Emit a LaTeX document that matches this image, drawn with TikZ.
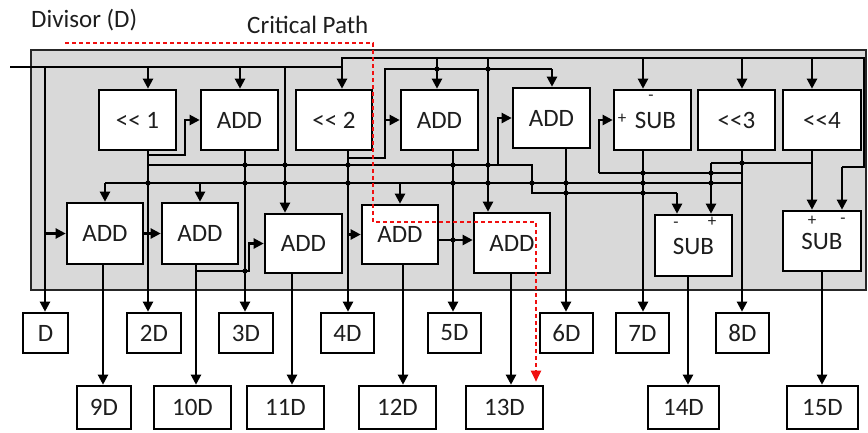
\documentclass[tikz,border=0pt]{standalone}
\usepackage{fontspec}
\setmainfont{Carlito}
\usetikzlibrary{arrows.meta}
\definecolor{panel}{HTML}{D9D9D9}
\definecolor{txt}{HTML}{1E1E1E}
\definecolor{crit}{HTML}{F01010}
\begin{document}
\begin{tikzpicture}[x=1pt,y=-1pt,
  wire/.style={line width=2.2pt, draw=black},
  arr/.style={wire, -{Triangle[length=10pt,width=10pt]}},
  blk/.style={draw=black, line width=2.6pt, fill=white, inner sep=0pt, text=txt,
              font=\fontsize{25}{28}\selectfont},
  sm/.style={inner sep=0pt, text=txt, font=\fontsize{17}{18}\selectfont},
  ttl/.style={inner sep=0pt, text=txt, anchor=west, font=\fontsize{25}{28}\selectfont},
  critpath/.style={draw=crit, line width=2.2pt, dash pattern=on 4pt off 3pt,
              -{Triangle[length=11pt,width=10pt]}},
]
\useasboundingbox (0,0) rectangle (868,432);
% panel
\filldraw[fill=panel, draw=black!85, line width=2.4pt] (31,50) rectangle (866,290);

% titles
\node[ttl] (tdiv) at (31,20) {Divisor (D)};
\node[ttl] (tcrit) at (247,25) {Critical Path};

% top row blocks
\node[blk, minimum width=77pt, minimum height=60pt] (b1) at (137.5,120) {<\kern0pt< 1};
\node[blk, minimum width=77pt, minimum height=60pt] (b2) at (239.5,120) {ADD};
\node[blk, minimum width=76pt, minimum height=60pt] (b3) at (334,120) {<\kern0pt< 2};
\node[blk, minimum width=77pt, minimum height=60pt] (b4) at (439.5,120) {ADD};
\node[blk, minimum width=77pt, minimum height=60pt] (b5) at (551.5,118) {ADD};
\node[blk, minimum width=77pt, minimum height=60pt] (b6) at (652.5,120) {\hspace*{6pt}SUB};
\node[blk, minimum width=77pt, minimum height=60pt] (b7) at (736.5,120) {<\kern0pt<3};
\node[blk, minimum width=78pt, minimum height=60pt] (b8) at (822,120) {<\kern0pt<4};
\node[sm] (b6p) at (622,119) {+};
\node[sm] (b6m) at (651,98) {-};

% second row blocks
\node[blk, minimum width=76pt, minimum height=61pt] (c1) at (105,233.5) {ADD};
\node[blk, minimum width=76pt, minimum height=61pt] (c2) at (200,233.5) {ADD};
\node[blk, minimum width=77pt, minimum height=59pt] (c3) at (303.5,243.5) {ADD};
\node[blk, minimum width=76pt, minimum height=59pt] (c4) at (400,234.5) {ADD};
\node[blk, minimum width=76pt, minimum height=60pt] (c5) at (512,243) {ADD};
\node[blk, minimum width=77pt, minimum height=61pt] (c6) at (693.5,245.5) {};
\node[blk, minimum width=78pt, minimum height=60pt] (c7) at (822,241) {};
\node[inner sep=0pt, text=txt, font=\fontsize{25}{28}\selectfont] (c6t) at (693.5,246) {SUB};
\node[inner sep=0pt, text=txt, font=\fontsize{25}{28}\selectfont] (c7t) at (822,241) {SUB};
\node[sm] (c6m) at (676,225) {-};
\node[sm] (c6p) at (712,222) {+};
\node[sm] (c7p) at (812,221) {+};
\node[sm] (c7m) at (843,221) {-};

% outputs row 1
\node[blk, minimum width=45pt, minimum height=40pt] (oD) at (45.5,333) {D};
\node[blk, minimum width=54pt, minimum height=40pt] (o2) at (154,333) {2D};
\node[blk, minimum width=54pt, minimum height=40pt] (o3) at (246,333) {3D};
\node[blk, minimum width=53pt, minimum height=40pt] (o4) at (347.5,333) {4D};
\node[blk, minimum width=53pt, minimum height=40pt] (o5) at (454.5,333) {5D};
\node[blk, minimum width=53pt, minimum height=40pt] (o6) at (566.5,333) {6D};
\node[blk, minimum width=53pt, minimum height=40pt] (o7) at (642.5,333) {7D};
\node[blk, minimum width=53pt, minimum height=40pt] (o8) at (742.5,333) {8D};
% outputs row 2
\node[blk, minimum width=54pt, minimum height=43pt] (o9) at (104,407.5) {9D};
\node[blk, minimum width=77pt, minimum height=43pt] (o10) at (192.5,407.5) {10D};
\node[blk, minimum width=77pt, minimum height=43pt] (o11) at (285.5,407.5) {11D};
\node[blk, minimum width=77pt, minimum height=43pt] (o12) at (397.5,407.5) {12D};
\node[blk, minimum width=77pt, minimum height=43pt] (o13) at (504.5,407.5) {13D};
\node[blk, minimum width=71pt, minimum height=43pt] (o14) at (683.5,407.5) {14D};
\node[blk, minimum width=71pt, minimum height=43pt] (o15) at (822.5,407.5) {15D};

% divisor input lines
\coordinate (din) at (10,67);
\draw[wire] (din) -- (342,67);
\draw[wire] (342,67) -- (342,58) -- (864,58) -- (864,167) -- (842,167);
\draw[arr] (842,167) -- (842,0 |- c7.north);
\draw[arr] (342,58) -- (342,0 |- b3.north);
\draw[arr] (148,67) -- (148,0 |- b1.north);
\draw[arr] (240,67) -- (240,0 |- b2.north);
\draw[arr] (45,67) -- (45,0 |- oD.north);
\draw[arr] (285,67) -- (285,0 |- c3.north);
\draw[arr] (45,0 |- c1.west) -- (c1.west);
\draw[arr] (437,58) -- (437,0 |- b4.north);
\draw[arr] (488,58) -- (488,0 |- c5.north);
\draw[arr] (643,58) -- (643,0 |- b6.north);
\draw[arr] (742,58) -- (742,0 |- b7.north);
\draw[arr] (812,58) -- (812,0 |- b8.north);

% << 1 (2D)
\draw[arr] (148,0 |- b1.south) -- (148,0 |- o2.north);
\draw[arr] (148,155) -- (185,155) -- (185,0 |- b2.west) -- (b2.west);
\draw[wire] (148,165) -- (532,165) -- (532,193) -- (677,193);
\draw[arr] (677,193) -- (677,0 |- c6.north);
\draw[arr] (498,165) -- (498,0 |- b5.west) -- (b5.west);

% 8D bus
\draw[wire] (105,183) -- (742,183);
\draw[arr] (105,183) -- (c1.north);
\draw[arr] (200,183) -- (c2.north);
\draw[arr] (400,183) -- (c4.north);

% ADD (3D)
\draw[arr] (245,0 |- b2.south) -- (245,0 |- o3.north);
% << 2 (4D)
\draw[arr] (348,0 |- b3.south) -- (348,0 |- o4.north);
\draw[wire] (348,158) -- (385,158) -- (385,69) -- (552,69);
\draw[arr] (552,69) -- (552,0 |- b5.north);
\draw[arr] (385,0 |- b4.west) -- (b4.west);
\draw[arr] (348,0 |- c4.west) -- (c4.west);
% 5D, 6D, 7D
\draw[arr] (453,0 |- b4.south) -- (453,0 |- o5.north);
\draw[arr] (566,0 |- b5.south) -- (566,0 |- o6.north);
\draw[arr] (643,0 |- b6.south) -- (643,0 |- o7.north);
\draw[wire] (742,173) -- (599,173);
\draw[arr] (599,173) -- (599,0 |- b6.west) -- (b6.west);
% <<3, <<4
\draw[arr] (742,0 |- b7.south) -- (742,0 |- o8.north);
\draw[arr] (812,0 |- b8.south) -- (812,0 |- c7.north);
\draw[wire] (812,163) -- (711,163);
\draw[arr] (711,163) -- (711,0 |- c6.north);

% second row connections
\draw[arr] (c1.east) -- (c2.west);
\draw[arr] (103,0 |- c1.south) -- (103,0 |- o9.north);
\draw[arr] (196,0 |- c2.south) -- (196,0 |- o10.north);
\draw[arr] (196,271) -- (249,271) -- (249,0 |- c3.west) -- (c3.west);
\draw[arr] (292,0 |- c3.south) -- (292,0 |- o11.north);
\draw[arr] (403,0 |- c4.south) -- (403,0 |- o12.north);
\draw[arr] (c4.east |- 0,240) -- (c5.west |- 0,240);
\draw[arr] (511,0 |- c5.south) -- (511,0 |- o13.north);
\draw[arr] (688,0 |- c6.south) -- (688,0 |- o14.north);
\draw[arr] (822,0 |- c7.south) -- (822,0 |- o15.north);

% line hops
\foreach \p in {(437,69),(488,69),
  (245,165),(285,165),(348,165),(453,165),(488,165),
  (148,183),(245,183),(285,183),(348,183),(453,183),(488,183),(532,183),(566,183),(643,183),(711,183),
  (566,193),(643,193),(643,173),(711,173),(742,163),(245,271),(453,240)}
  \fill \p circle (2.6pt);

% critical path
\coordinate (cp0) at (65,43);
\draw[critpath, shorten >=3pt] (cp0) -- (373,43) -- (373,222) -- (536,222) -- (536,0 |- o13.north);
\end{tikzpicture}
\end{document}
